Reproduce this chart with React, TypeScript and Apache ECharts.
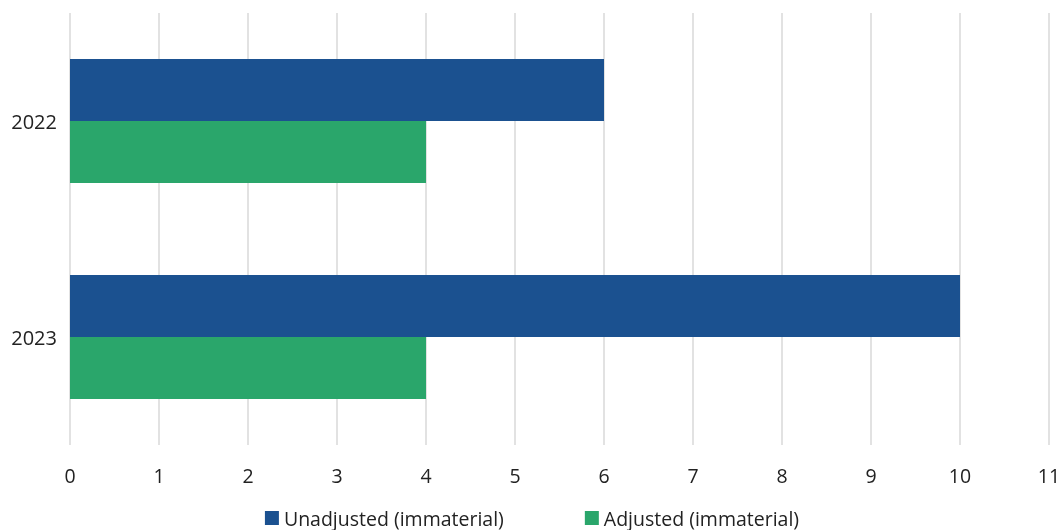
import React, { useEffect, useRef } from "react";
import * as echarts from "echarts";

const categories = ["2022", "2023"];
const unadjusted = [6, 10];
const adjusted = [4, 4];
const seriesNames = ["Unadjusted (immaterial)", "Adjusted (immaterial)"];

export default function App() {
  const ref = useRef<HTMLDivElement>(null);
  useEffect(() => {
    if (!ref.current) return;
    const chart = echarts.init(ref.current, null, { renderer: "svg" });
    const font = "'Open Sans', 'Noto Sans', sans-serif";
    chart.setOption({
      animation: false,
      textStyle: { fontFamily: font },
      grid: { left: 70, right: 15, top: 13, bottom: 85, containLabel: false },
      legend: {
        top: 502,
        left: "center",
        itemWidth: 14,
        itemHeight: 14,
        itemGap: 81,
        icon: "rect",
        textStyle: { fontSize: 19.5, color: "#222", fontFamily: font, lineHeight: 22 },
        data: seriesNames,
      },
      xAxis: {
        type: "value",
        min: 0,
        max: 11,
        interval: 1,
        axisLine: { show: false },
        axisTick: { show: false },
        axisLabel: { fontSize: 19.5, color: "#222", margin: 20, fontFamily: font },
        splitLine: { show: true, lineStyle: { color: "#d9d9d9", width: 1.5 } },
      },
      yAxis: {
        type: "category",
        data: categories,
        inverse: true,
        axisLine: { show: false },
        axisTick: { show: false },
        axisLabel: { fontSize: 20, color: "#222", margin: 13, fontFamily: font },
      },
      series: [
        {
          name: seriesNames[0],
          type: "bar",
          data: unadjusted,
          itemStyle: { color: "#1b5190" },
          barGap: "0%",
          barCategoryGap: "42.6%",
        },
        {
          name: seriesNames[1],
          type: "bar",
          data: adjusted,
          itemStyle: { color: "#2aa66b" },
          barGap: "0%",
          barCategoryGap: "42.6%",
        },
      ],
    });
    return () => chart.dispose();
  }, []);
  return (
    <div
      ref={ref}
      style={{ position: "fixed", left: 0, top: 0, width: 1064, height: 530 }}
    />
  );
}
